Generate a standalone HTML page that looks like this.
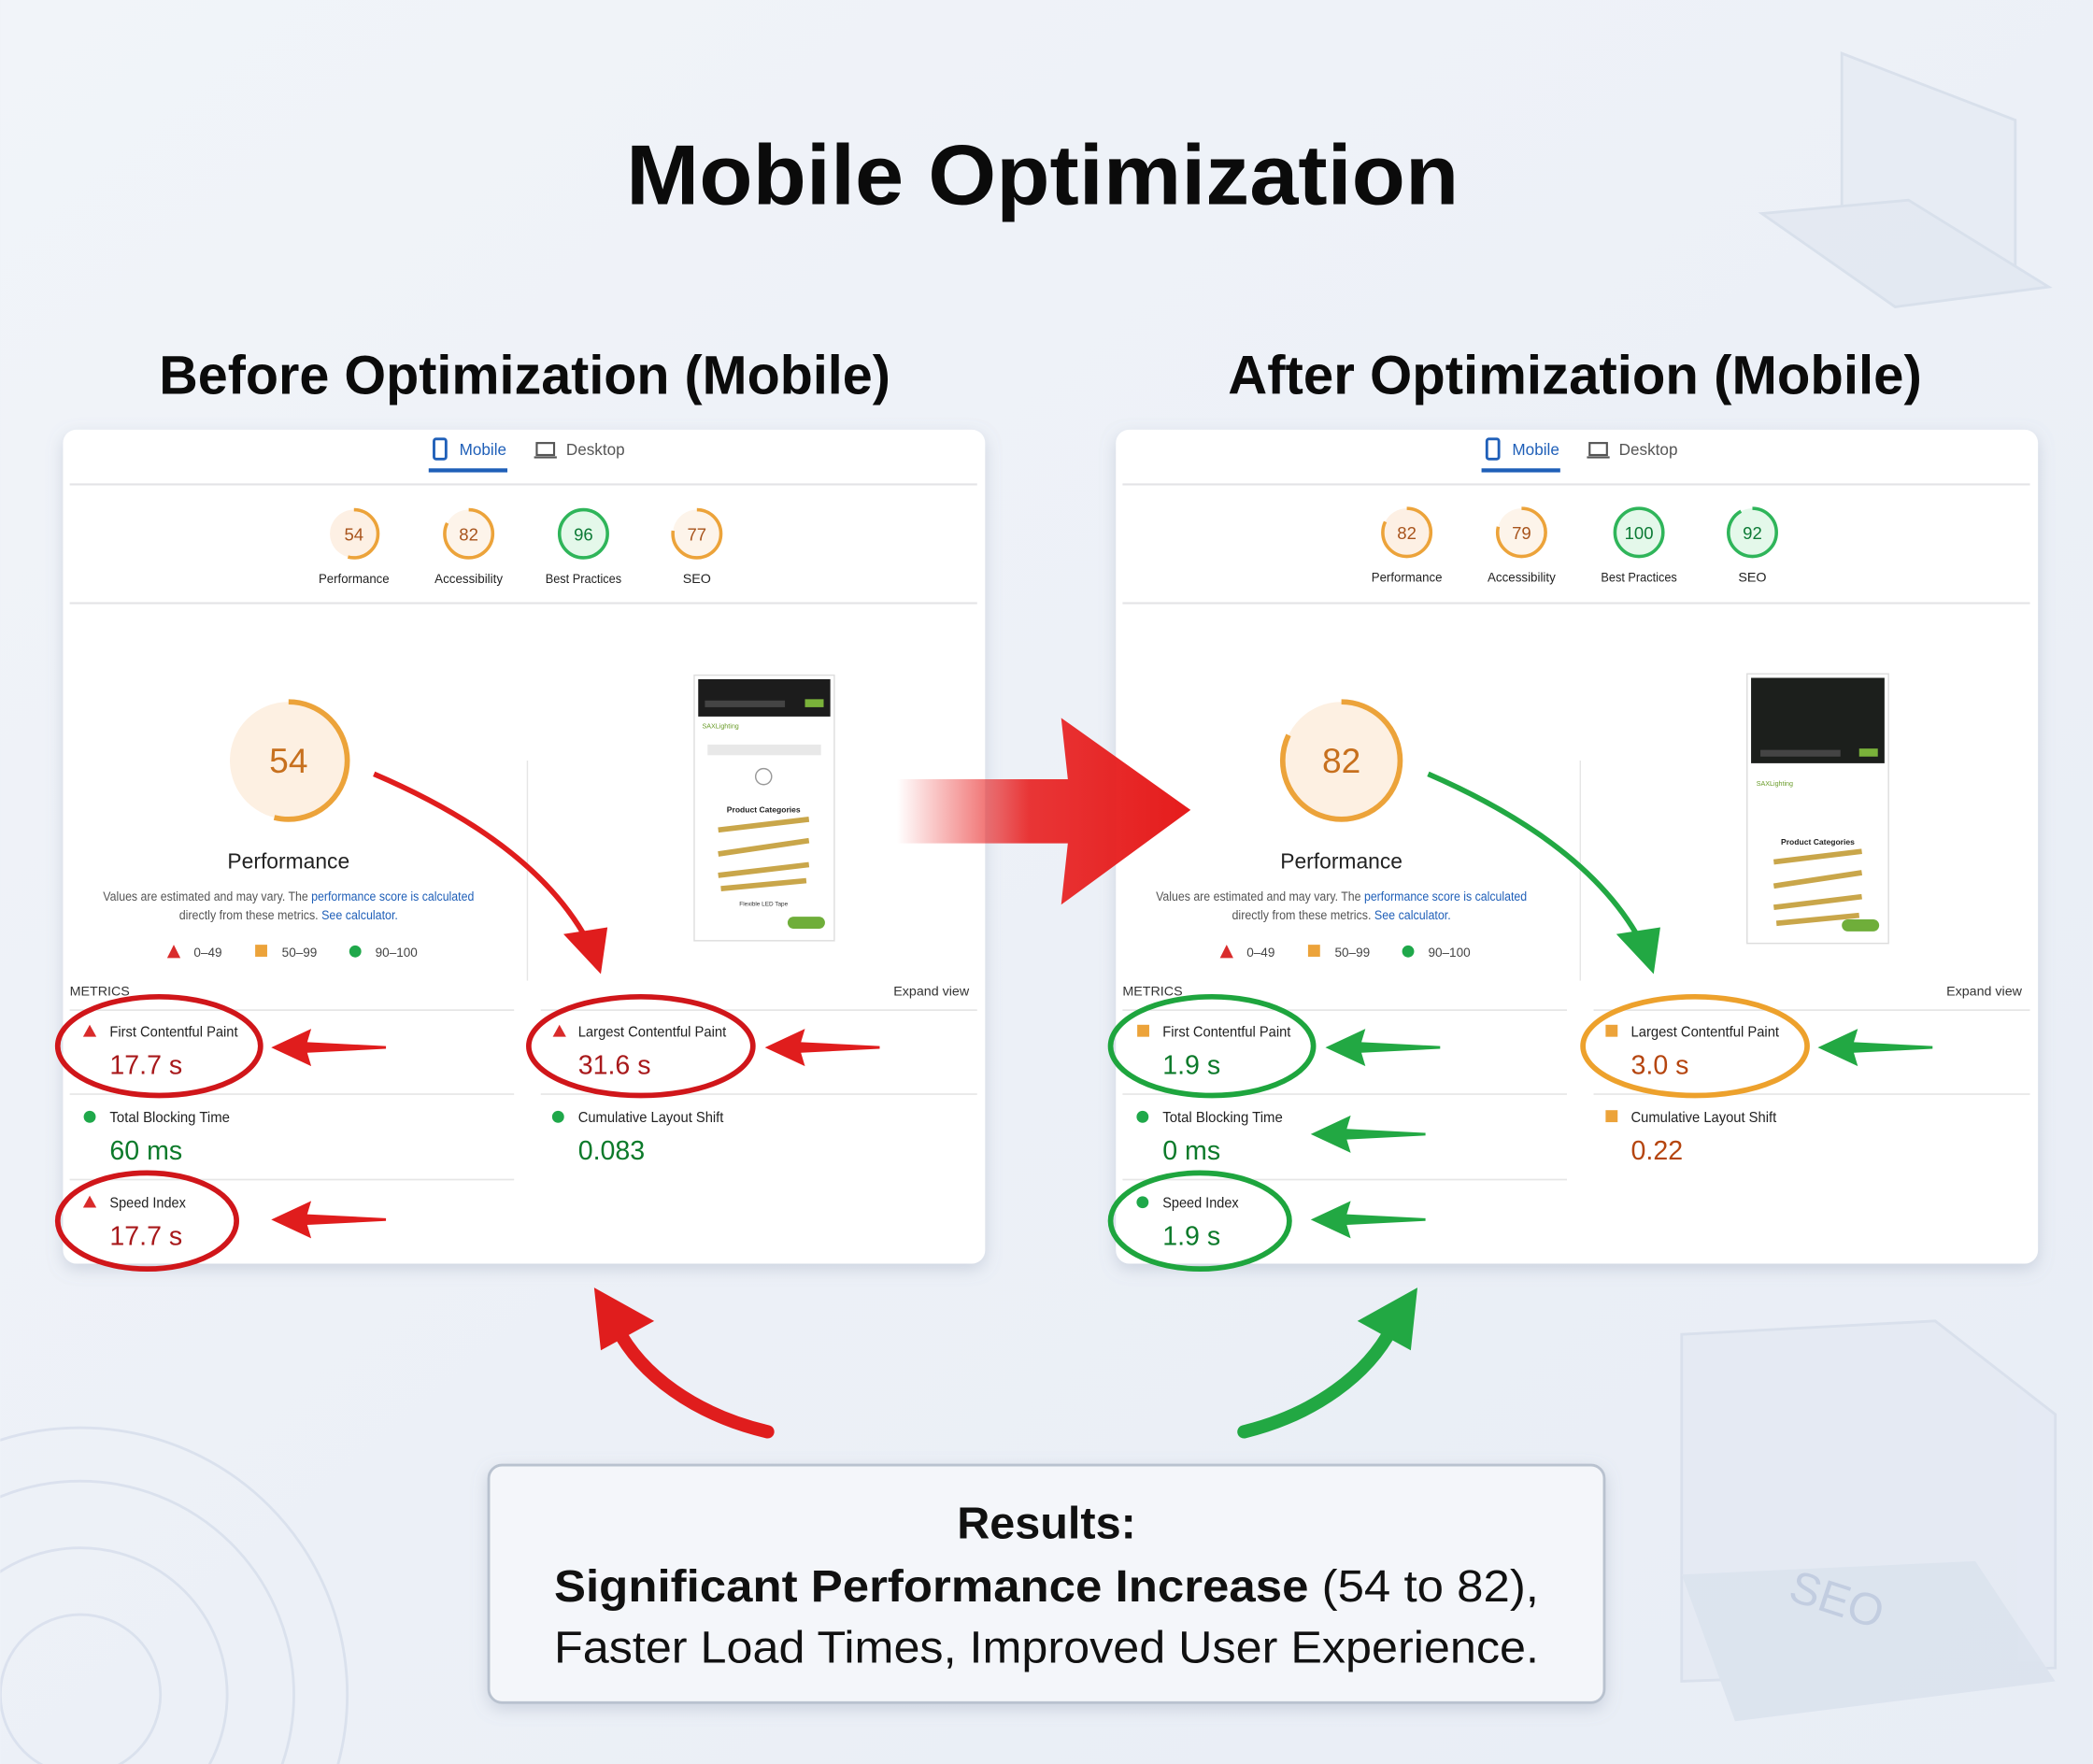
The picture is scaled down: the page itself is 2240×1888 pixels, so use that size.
<!DOCTYPE html>
<html><head><meta charset="utf-8"><style>
html,body{margin:0;padding:0;width:2240px;height:1888px;overflow:hidden;background:#eef2f8}
svg{display:block;font-family:"Liberation Sans",sans-serif}
</style></head><body>
<svg width="2240" height="1888" viewBox="0 0 1568 1322" xmlns="http://www.w3.org/2000/svg" overflow="hidden">
<defs>
<linearGradient id="bg" x1="0" y1="0" x2="1" y2="1"><stop offset="0" stop-color="#f1f4f9"/><stop offset="1" stop-color="#e8edf5"/></linearGradient>
<linearGradient id="big" x1="0" y1="0" x2="1" y2="0"><stop offset="0" stop-color="#e82020" stop-opacity="0"/><stop offset="0.45" stop-color="#e82020" stop-opacity="0.9"/><stop offset="1" stop-color="#e51c1c"/></linearGradient>
<filter id="sh" x="-10%" y="-10%" width="120%" height="120%"><feDropShadow dx="0" dy="4" stdDeviation="6" flood-color="#8090a8" flood-opacity="0.3"/></filter>
<g id="larr"><path d="M0,0 L30,-14 L27,-4 L86,-1 L86,1 L27,4 L30,14 Z"/></g>
<clipPath id="cl"><rect width="1568" height="1322"/></clipPath>
</defs>
<g clip-path="url(#cl)">
<rect width="1568" height="1322" fill="url(#bg)"/>
<!-- decorations -->
<g fill="none" stroke="#d6deeb" stroke-width="2" opacity="0.8">
<circle cx="60" cy="1270" r="60"/><circle cx="60" cy="1270" r="110"/><circle cx="60" cy="1270" r="160"/><circle cx="60" cy="1270" r="200"/>
</g>
<g opacity="0.55">
<path d="M1380,40 L1510,90 L1510,200 L1380,160 Z" fill="#e3e9f3" stroke="#c9d3e3" stroke-width="2"/>
<path d="M1320,160 L1430,150 L1535,215 L1420,230 Z" fill="#dde4ef" stroke="#c9d3e3" stroke-width="2"/>
<path d="M1260,1000 L1450,990 L1540,1060 L1540,1250 L1260,1260 Z" fill="#e2e8f2" stroke="#ccd5e4" stroke-width="2"/>
<path d="M1260,1180 L1480,1170 L1540,1260 L1300,1290 Z" fill="#d3dcea"/>
</g>
<text x="1340" y="1210" font-size="34" fill="#c2cde0" transform="rotate(18 1375 1200)">SEO</text>

<!-- titles -->
<text x="781" y="153" font-size="64" font-weight="bold" text-anchor="middle" fill="#0b0b0b" textLength="624" lengthAdjust="spacingAndGlyphs">Mobile Optimization</text>
<text x="393" y="295" font-size="41" font-weight="bold" text-anchor="middle" fill="#0b0b0b" textLength="548" lengthAdjust="spacingAndGlyphs">Before Optimization (Mobile)</text>
<text x="1180" y="295" font-size="41" font-weight="bold" text-anchor="middle" fill="#0b0b0b" textLength="520" lengthAdjust="spacingAndGlyphs">After Optimization (Mobile)</text>

<!-- LEFT CARD -->
<g>
<rect x="47" y="322" width="691" height="625" rx="10" fill="#fff" filter="url(#sh)"/>
<rect x="325" y="329" width="9" height="15" rx="1.5" fill="none" stroke="#1f5fb8" stroke-width="2"/>
<text x="344" y="341" font-size="12" fill="#1f5fb8">Mobile</text>
<rect x="321" y="351" width="59" height="3" fill="#1f5fb8"/>
<rect x="402" y="332" width="13" height="9" fill="none" stroke="#555" stroke-width="1.5"/><rect x="400" y="342" width="17" height="1.5" fill="#555"/>
<text x="424" y="341" font-size="12" fill="#555">Desktop</text>
<line x1="52" y1="363" x2="732" y2="363" stroke="#e3e3e6" stroke-width="1.5"/>
<line x1="52" y1="452" x2="732" y2="452" stroke="#e3e3e6" stroke-width="1.5"/>
<g font-size="13" text-anchor="middle">
<circle cx="265" cy="400" r="18" fill="#fdf0e4"/><circle cx="265" cy="400" r="18" fill="none" stroke="#eca33a" stroke-width="2.5" stroke-dasharray="61 113" transform="rotate(-90 265 400)"/><text x="265" y="405" fill="#a8541c">54</text>
<circle cx="351" cy="400" r="18" fill="#fdf4ea"/><circle cx="351" cy="400" r="18" fill="none" stroke="#eca33a" stroke-width="2.5" stroke-dasharray="93 113" transform="rotate(-90 351 400)"/><text x="351" y="405" fill="#a8541c">82</text>
<circle cx="437" cy="400" r="18" fill="#e4f8ea" stroke="#2fb55a" stroke-width="2.5"/><text x="437" y="405" fill="#0c7a35">96</text>
<circle cx="522" cy="400" r="18" fill="#fdf4ea"/><circle cx="522" cy="400" r="18" fill="none" stroke="#eca33a" stroke-width="2.5" stroke-dasharray="87 113" transform="rotate(-90 522 400)"/><text x="522" y="405" fill="#a8541c">77</text>
<g font-size="10" fill="#222"><text x="265" y="437" textLength="53" lengthAdjust="spacingAndGlyphs">Performance</text><text x="351" y="437" textLength="51" lengthAdjust="spacingAndGlyphs">Accessibility</text><text x="437" y="437" textLength="57" lengthAdjust="spacingAndGlyphs">Best Practices</text><text x="522" y="437">SEO</text></g>
</g>
<circle cx="216" cy="570" r="44" fill="#fdf0e2"/>
<circle cx="216" cy="570" r="44" fill="none" stroke="#eca33a" stroke-width="4" stroke-dasharray="149 277" transform="rotate(-90 216 570)"/>
<text x="216" y="579" font-size="26" text-anchor="middle" fill="#c7701e">54</text>
<text x="216" y="651" font-size="16" text-anchor="middle" fill="#222">Performance</text>
<text x="216" y="675" font-size="9.5" text-anchor="middle" fill="#555" textLength="278" lengthAdjust="spacingAndGlyphs">Values are estimated and may vary. The <tspan fill="#1f5fb8">performance score is calculated</tspan></text>
<text x="216" y="689" font-size="9.5" text-anchor="middle" fill="#555" textLength="164" lengthAdjust="spacingAndGlyphs">directly from these metrics. <tspan fill="#1f5fb8">See calculator.</tspan></text>
<path d="M130,708 L135,718 L125,718 Z" fill="#d92b2b"/><text x="145" y="717" font-size="9.5" fill="#444">0–49</text>
<rect x="191" y="708" width="9" height="9" fill="#eca33a"/><text x="211" y="717" font-size="9.5" fill="#444">50–99</text>
<circle cx="266" cy="713" r="4.5" fill="#1fa84a"/><text x="281" y="717" font-size="9.5" fill="#444">90–100</text>
<line x1="395" y1="570" x2="395" y2="735" stroke="#e6e6e6"/>
<rect x="520" y="506" width="105" height="199" fill="#fff" stroke="#ddd"/>
<rect x="523" y="509" width="99" height="28" fill="#1c1c1c"/>
<rect x="528" y="525" width="60" height="5" fill="#444"/><rect x="603" y="524" width="14" height="6" fill="#7ab23a"/>
<text x="526" y="546" font-size="5" fill="#6a9c2a">SAXLighting</text>
<rect x="530" y="558" width="85" height="8" fill="#e8e8e8"/>
<circle cx="572" cy="582" r="6" fill="none" stroke="#999"/>
<text x="572" y="609" font-size="6" font-weight="bold" text-anchor="middle" fill="#222">Product Categories</text>
<g stroke="#c9a64a" stroke-width="4"><line x1="538" y1="622" x2="606" y2="614"/><line x1="538" y1="640" x2="606" y2="630"/><line x1="538" y1="656" x2="606" y2="648"/><line x1="540" y1="666" x2="604" y2="660"/></g>
<text x="572" y="679" font-size="4.5" text-anchor="middle" fill="#333">Flexible LED Tape</text>
<rect x="590" y="687" width="28" height="9" rx="4.5" fill="#6fae3a"/>
<text x="52" y="746" font-size="10" fill="#333">METRICS</text>
<text x="726" y="746" font-size="10" fill="#333" text-anchor="end">Expand view</text>
<g stroke="#e6e6e6" stroke-width="1.2"><line x1="52" y1="757" x2="385" y2="757"/><line x1="405" y1="757" x2="732" y2="757"/><line x1="52" y1="820" x2="385" y2="820"/><line x1="405" y1="820" x2="732" y2="820"/><line x1="52" y1="884" x2="385" y2="884"/></g>
<path d="M67,768 L72,777 L62,777 Z" fill="#d92b2b"/><text x="82" y="777" font-size="11" fill="#222" textLength="96" lengthAdjust="spacingAndGlyphs">First Contentful Paint</text><text x="82" y="805" font-size="20" fill="#a8191b">17.7 s</text>
<path d="M419,768 L424,777 L414,777 Z" fill="#d92b2b"/><text x="433" y="777" font-size="11" fill="#222" textLength="111" lengthAdjust="spacingAndGlyphs">Largest Contentful Paint</text><text x="433" y="805" font-size="20" fill="#a8191b">31.6 s</text>
<circle cx="67" cy="837" r="4.5" fill="#1fa84a"/><text x="82" y="841" font-size="11" fill="#222" textLength="90" lengthAdjust="spacingAndGlyphs">Total Blocking Time</text><text x="82" y="869" font-size="20" fill="#0c7a2a">60 ms</text>
<circle cx="418" cy="837" r="4.5" fill="#1fa84a"/><text x="433" y="841" font-size="11" fill="#222" textLength="109" lengthAdjust="spacingAndGlyphs">Cumulative Layout Shift</text><text x="433" y="869" font-size="20" fill="#0c7a2a">0.083</text>
<path d="M67,896 L72,905 L62,905 Z" fill="#d92b2b"/><text x="82" y="905" font-size="11" fill="#222" textLength="57" lengthAdjust="spacingAndGlyphs">Speed Index</text><text x="82" y="933" font-size="20" fill="#a8191b">17.7 s</text>
<g fill="none" stroke="#d0161a" stroke-width="4"><ellipse cx="119" cy="784" rx="76" ry="37"/><ellipse cx="480" cy="784" rx="84" ry="37"/><ellipse cx="110" cy="915" rx="67" ry="36"/></g>
<g fill="#e01d1d"><use href="#larr" x="203" y="785"/><use href="#larr" x="573" y="785"/><use href="#larr" x="203" y="914"/></g>
<path d="M280,580 C350,610 410,650 440,705" fill="none" stroke="#e01d1d" stroke-width="4"/>
<path d="M450,730 L422,700 L455,695 Z" fill="#e01d1d"/>
</g>

<!-- RIGHT CARD -->
<g transform="translate(789,0)">
<rect x="47" y="322" width="691" height="625" rx="10" fill="#fff" filter="url(#sh)"/>
<rect x="325" y="329" width="9" height="15" rx="1.5" fill="none" stroke="#1f5fb8" stroke-width="2"/>
<text x="344" y="341" font-size="12" fill="#1f5fb8">Mobile</text>
<rect x="321" y="351" width="59" height="3" fill="#1f5fb8"/>
<rect x="402" y="332" width="13" height="9" fill="none" stroke="#555" stroke-width="1.5"/><rect x="400" y="342" width="17" height="1.5" fill="#555"/>
<text x="424" y="341" font-size="12" fill="#555">Desktop</text>
<line x1="52" y1="363" x2="732" y2="363" stroke="#e3e3e6" stroke-width="1.5"/>
<line x1="52" y1="452" x2="732" y2="452" stroke="#e3e3e6" stroke-width="1.5"/>
<g font-size="13" text-anchor="middle">
<circle cx="265" cy="399" r="18" fill="#fdf0e4"/><circle cx="265" cy="399" r="18" fill="none" stroke="#eca33a" stroke-width="2.5" stroke-dasharray="93 113" transform="rotate(-90 265 399)"/><text x="265" y="404" fill="#a8541c">82</text>
<circle cx="351" cy="399" r="18" fill="#fdf4ea"/><circle cx="351" cy="399" r="18" fill="none" stroke="#eca33a" stroke-width="2.5" stroke-dasharray="89 113" transform="rotate(-90 351 399)"/><text x="351" y="404" fill="#a8541c">79</text>
<circle cx="439" cy="399" r="18" fill="#e4f8ea" stroke="#2fb55a" stroke-width="2.5"/><text x="439" y="404" fill="#0c7a35">100</text>
<circle cx="524" cy="399" r="18" fill="#e4f8ea"/><circle cx="524" cy="399" r="18" fill="none" stroke="#2fb55a" stroke-width="2.5" stroke-dasharray="104 113" transform="rotate(-90 524 399)"/><text x="524" y="404" fill="#0c7a35">92</text>
<g font-size="10" fill="#222"><text x="265" y="436" textLength="53" lengthAdjust="spacingAndGlyphs">Performance</text><text x="351" y="436" textLength="51" lengthAdjust="spacingAndGlyphs">Accessibility</text><text x="439" y="436" textLength="57" lengthAdjust="spacingAndGlyphs">Best Practices</text><text x="524" y="436">SEO</text></g>
</g>
<circle cx="216" cy="570" r="44" fill="#fdf0e2"/>
<circle cx="216" cy="570" r="44" fill="none" stroke="#eca33a" stroke-width="4" stroke-dasharray="227 277" transform="rotate(-90 216 570)"/>
<text x="216" y="579" font-size="26" text-anchor="middle" fill="#c7701e">82</text>
<text x="216" y="651" font-size="16" text-anchor="middle" fill="#222">Performance</text>
<text x="216" y="675" font-size="9.5" text-anchor="middle" fill="#555" textLength="278" lengthAdjust="spacingAndGlyphs">Values are estimated and may vary. The <tspan fill="#1f5fb8">performance score is calculated</tspan></text>
<text x="216" y="689" font-size="9.5" text-anchor="middle" fill="#555" textLength="164" lengthAdjust="spacingAndGlyphs">directly from these metrics. <tspan fill="#1f5fb8">See calculator.</tspan></text>
<path d="M130,708 L135,718 L125,718 Z" fill="#d92b2b"/><text x="145" y="717" font-size="9.5" fill="#444">0–49</text>
<rect x="191" y="708" width="9" height="9" fill="#eca33a"/><text x="211" y="717" font-size="9.5" fill="#444">50–99</text>
<circle cx="266" cy="713" r="4.5" fill="#1fa84a"/><text x="281" y="717" font-size="9.5" fill="#444">90–100</text>
<line x1="395" y1="570" x2="395" y2="735" stroke="#e6e6e6"/>
<rect x="520" y="505" width="106" height="202" fill="#fff" stroke="#ddd"/>
<rect x="523" y="508" width="100" height="64" fill="#1c1f1c"/>
<rect x="530" y="562" width="60" height="5" fill="#444"/><rect x="604" y="561" width="14" height="6" fill="#7ab23a"/>
<text x="527" y="589" font-size="5" fill="#6a9c2a">SAXLighting</text>
<text x="573" y="633" font-size="6" font-weight="bold" text-anchor="middle" fill="#222">Product Categories</text>
<g stroke="#c9a64a" stroke-width="4"><line x1="540" y1="646" x2="606" y2="638"/><line x1="540" y1="664" x2="606" y2="654"/><line x1="540" y1="680" x2="606" y2="672"/><line x1="542" y1="692" x2="604" y2="686"/></g>
<rect x="591" y="689" width="28" height="9" rx="4.5" fill="#6fae3a"/>
<text x="52" y="746" font-size="10" fill="#333">METRICS</text>
<text x="726" y="746" font-size="10" fill="#333" text-anchor="end">Expand view</text>
<g stroke="#e6e6e6" stroke-width="1.2"><line x1="52" y1="757" x2="385" y2="757"/><line x1="405" y1="757" x2="732" y2="757"/><line x1="52" y1="820" x2="385" y2="820"/><line x1="405" y1="820" x2="732" y2="820"/><line x1="52" y1="884" x2="385" y2="884"/></g>
<rect x="63" y="768" width="9" height="9" fill="#eca33a"/><text x="82" y="777" font-size="11" fill="#222" textLength="96" lengthAdjust="spacingAndGlyphs">First Contentful Paint</text><text x="82" y="805" font-size="20" fill="#0c7a2a">1.9 s</text>
<rect x="414" y="768" width="9" height="9" fill="#eca33a"/><text x="433" y="777" font-size="11" fill="#222" textLength="111" lengthAdjust="spacingAndGlyphs">Largest Contentful Paint</text><text x="433" y="805" font-size="20" fill="#b5450f">3.0 s</text>
<circle cx="67" cy="837" r="4.5" fill="#1fa84a"/><text x="82" y="841" font-size="11" fill="#222" textLength="90" lengthAdjust="spacingAndGlyphs">Total Blocking Time</text><text x="82" y="869" font-size="20" fill="#0c7a2a">0 ms</text>
<rect x="414" y="832" width="9" height="9" fill="#eca33a"/><text x="433" y="841" font-size="11" fill="#222" textLength="109" lengthAdjust="spacingAndGlyphs">Cumulative Layout Shift</text><text x="433" y="869" font-size="20" fill="#b5450f">0.22</text>
<circle cx="67" cy="901" r="4.5" fill="#1fa84a"/><text x="82" y="905" font-size="11" fill="#222" textLength="57" lengthAdjust="spacingAndGlyphs">Speed Index</text><text x="82" y="933" font-size="20" fill="#0c7a2a">1.9 s</text>
<g fill="none" stroke-width="4"><ellipse cx="119" cy="784" rx="76" ry="37" stroke="#1ea53e"/><ellipse cx="481" cy="784" rx="84" ry="37" stroke="#eda12c"/><ellipse cx="110" cy="915" rx="67" ry="36" stroke="#1ea53e"/></g>
<g fill="#22a843"><use href="#larr" x="204" y="785"/><use href="#larr" x="573" y="785"/><use href="#larr" x="193" y="850"/><use href="#larr" x="193" y="914"/></g>
<path d="M281,580 C350,610 410,650 440,705" fill="none" stroke="#22a843" stroke-width="4"/>
<path d="M450,730 L422,700 L455,695 Z" fill="#22a843"/>
</g>

<!-- big arrow -->
<path d="M672,584 L800,584 L795,538 L892,607 L795,678 L800,632 L672,632 Z" fill="url(#big)"/>

<!-- bottom curved arrows -->
<path d="M575,1073 C520,1060 480,1030 462,995" fill="none" stroke="#e01d1d" stroke-width="10" stroke-linecap="round"/>
<path d="M445,965 L490,990 L450,1012 Z" fill="#e01d1d"/>
<path d="M932,1073 C985,1060 1025,1030 1043,995" fill="none" stroke="#22a843" stroke-width="10" stroke-linecap="round"/>
<path d="M1062,965 L1017,990 L1057,1012 Z" fill="#22a843"/>

<!-- results -->
<rect x="366" y="1098" width="836" height="178" rx="10" fill="#f4f6fa" stroke="#b9c2cf" stroke-width="2" filter="url(#sh)"/>
<text x="784" y="1153" font-size="34" font-weight="bold" text-anchor="middle" fill="#111">Results:</text>
<text x="784" y="1200" font-size="34" text-anchor="middle" fill="#111" textLength="738" lengthAdjust="spacingAndGlyphs"><tspan font-weight="bold">Significant Performance Increase</tspan> (54 to 82),</text>
<text x="784" y="1246" font-size="34" text-anchor="middle" fill="#111" textLength="738" lengthAdjust="spacingAndGlyphs">Faster Load Times, Improved User Experience.</text>
</g>
</svg>
</body></html>
